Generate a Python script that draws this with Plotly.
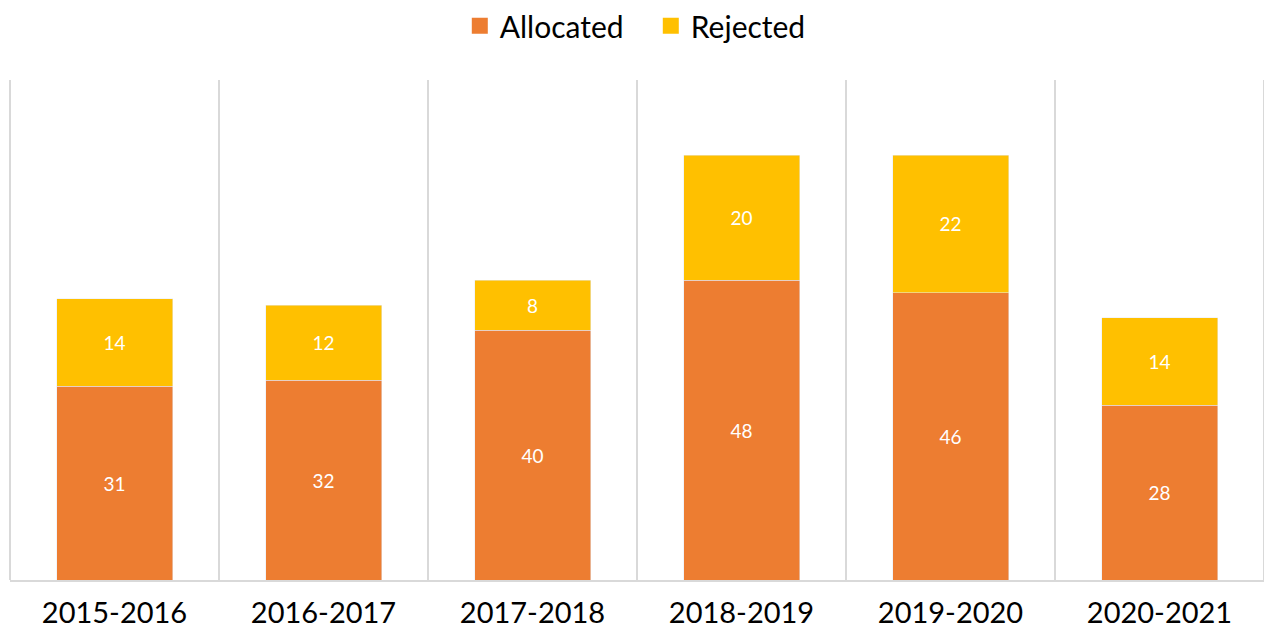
import plotly.graph_objects as go

years = ["2015-2016", "2016-2017", "2017-2018", "2018-2019", "2019-2020", "2020-2021"]
allocated = [31, 32, 40, 48, 46, 28]
rejected = [14, 12, 8, 20, 22, 14]

ORANGE = "#ED7D31"
GOLD = "#FFC000"

fig = go.Figure()
fig.add_trace(go.Bar(x=years, y=allocated, name="Allocated", marker_color=ORANGE,
                     showlegend=False,
                     text=allocated, textposition="inside", insidetextanchor="middle",
                     textfont=dict(color="white", size=19, family="Lato")))
fig.add_trace(go.Bar(x=years, y=rejected, name="Rejected", marker_color=GOLD,
                     showlegend=False,
                     text=rejected, textposition="inside", insidetextanchor="middle",
                     textfont=dict(color="white", size=19, family="Lato")))
# legend entries with square swatches
for nm, col in [("Allocated", ORANGE), ("Rejected", GOLD)]:
    fig.add_trace(go.Scatter(x=[None], y=[None], mode="markers", name=nm,
                             marker=dict(symbol="square", size=18, color=col)))

fig.update_layout(
    barmode="stack",
    bargap=0.445,
    width=1272, height=636,
    margin=dict(l=2, r=16, t=72, b=64),
    plot_bgcolor="white", paper_bgcolor="white",
    font=dict(family="Lato", color="black"),
    uniformtext=dict(minsize=10, mode="show"),
    legend=dict(orientation="h", x=0.511, xanchor="center", y=0.972, yref="container",
                yanchor="middle", font=dict(size=30), traceorder="normal",
                itemwidth=30, entrywidth=146, entrywidthmode="pixels"),
    xaxis=dict(tickson="boundaries", showgrid=True, gridcolor="#D9D9D9", gridwidth=2,
               showline=True, linecolor="#D9D9D9", linewidth=2,
               ticks="", tickfont=dict(size=29, family="Lato"), ticklabelstandoff=6),
    yaxis=dict(range=[0, 80], showgrid=False, showticklabels=False, zeroline=False),
    shapes=[
        dict(type="line", xref="paper", yref="paper", x0=0, x1=0, y0=0, y1=1,
             line=dict(color="#D9D9D9", width=2), layer="below"),
        dict(type="line", xref="paper", yref="paper", x0=1, x1=1, y0=0, y1=1,
             line=dict(color="#D9D9D9", width=2), layer="below"),
    ],
)
fig.write_html("out.html")
